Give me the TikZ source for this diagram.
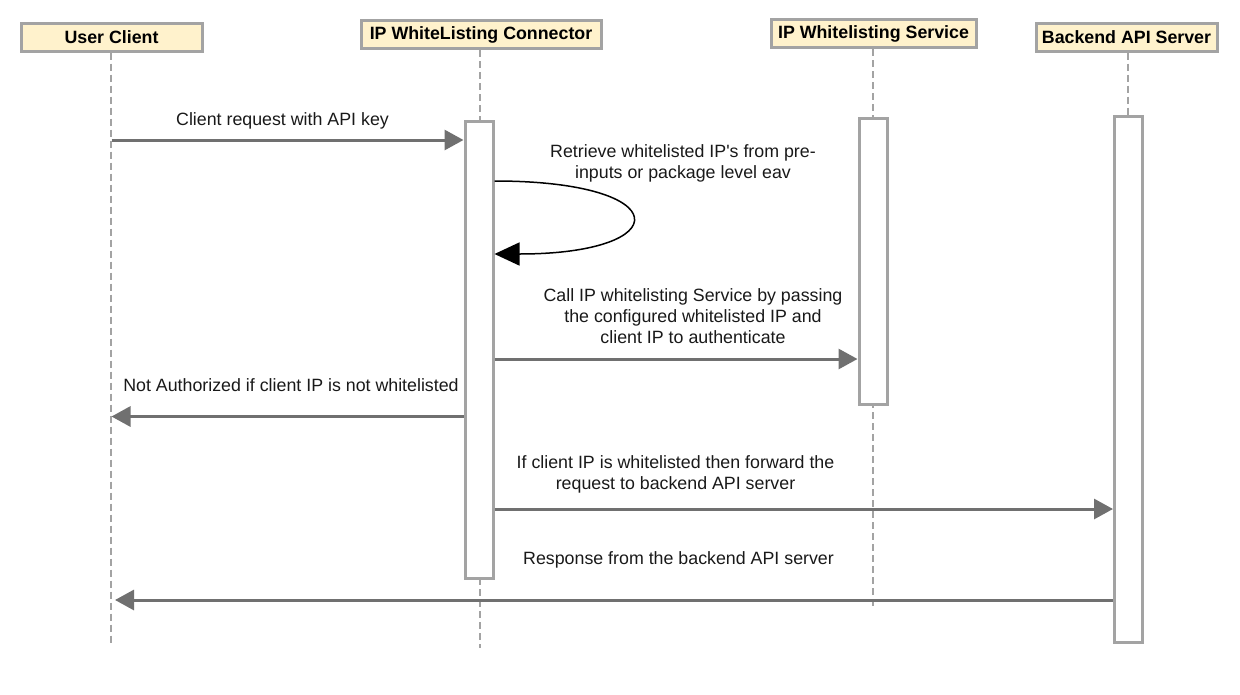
\documentclass[tikz,border=0pt]{standalone}
\usepackage{fontspec}
\setmainfont{Liberation Sans}
\usetikzlibrary{arrows.meta}
\definecolor{hdrfill}{HTML}{FFF2CC}
\definecolor{boxline}{HTML}{A3A3A3}
\definecolor{lifecol}{HTML}{A3A3A3}
\definecolor{msgline}{HTML}{707070}
\begin{document}
\begin{tikzpicture}[x=1pt,y=-1pt,
  header/.style={draw=boxline,line width=3pt,fill=hdrfill,
    font=\fontsize{17.8}{21}\selectfont\bfseries,inner sep=0pt,minimum height=28pt},
  actbar/.style={draw=boxline,line width=3pt,fill=white,inner sep=0pt,minimum width=28pt},
  lifeline/.style={draw=lifecol,line width=2.6pt,dash pattern=on 7pt off 4pt},
  msg/.style={draw=msgline,line width=3pt,-{Triangle[length=19pt,width=20pt]}},
  selfmsg/.style={draw=black,line width=1.5pt,-{Triangle[length=25pt,width=23pt]}},
  lbl/.style={font=\fontsize{17.8}{21}\selectfont,align=center,inner sep=0pt,text=black!90}
]
\useasboundingbox (0,0) rectangle (1240,694);

% headers
\node[header,minimum width=181pt] (uc) at (111.5,37) {User Client};
\node[header,minimum width=240pt] (wc) at (481,34.5) {IP WhiteListing Connector};
\node[header,minimum width=205pt] (ws) at (873.5,33.5) {IP Whitelisting Service};
\node[header,minimum width=181pt] (be) at (1126.5,37) {Backend API Server};

% lifeline ends
\coordinate (ucend) at (111,645);
\coordinate (wcend) at (480,648);
\coordinate (wsend) at (873,608);
\coordinate (beend) at (1128,620);

\draw[lifeline] (uc.south -| ucend) -- (ucend);
\draw[lifeline] (wc.south -| wcend) -- (wcend);
\draw[lifeline] (ws.south -| wsend) -- (wsend);
\draw[lifeline] (be.south -| beend) -- (beend);

% activation bars
\node[actbar,minimum height=457pt] (a1) at (479,349.5) {};
\node[actbar,minimum height=286pt] (a2) at (873,261) {};
\node[actbar,minimum height=526pt] (a3) at (1128.5,379) {};

% message rows
\coordinate (r1) at (0,140);
\coordinate (r2a) at (0,181);
\coordinate (r2b) at (0,254);
\coordinate (r3) at (0,359);
\coordinate (r4) at (0,416.5);
\coordinate (r5) at (0,509);
\coordinate (r6) at (0,600);
\coordinate (e6) at (115,600);

% 1
\draw[msg] (uc.center |- r1) -- (a1.west |- r1);
\node[lbl] (t1) at (282.5,121) {Client request with API key};

% 2 self call
\coordinate (sa) at (a1.east |- r2a);
\coordinate (sb) at (a1.east |- r2b);
\draw[selfmsg] (sa) .. controls (677,181) and (677,254) .. (sb);
\node[lbl] (t2) at (683,163) {Retrieve whitelisted IP\textquotesingle s from pre-\\inputs or package level eav};

% 3
\draw[msg] (a1.east |- r3) -- (a2.west |- r3);
\node[lbl] (t3) at (693,316) {Call IP whitelisting Service by passing\\the configured whitelisted IP and\\client IP to authenticate};

% 4
\draw[msg] (a1.west |- r4) -- (uc.center |- r4);
\node[lbl] (t4) at (291,385) {Not Authorized if client IP is not whitelisted};

% 5
\draw[msg] (a1.east |- r5) -- (a3.west |- r5);
\node[lbl] (t5) at (675.5,474.5) {If client IP is whitelisted then forward the\\request to backend API server};

% 6
\draw[msg] (a3.west |- r6) -- (e6);
\node[lbl] (t6) at (678.5,560) {Response from the backend API server};
\end{tikzpicture}
\end{document}
